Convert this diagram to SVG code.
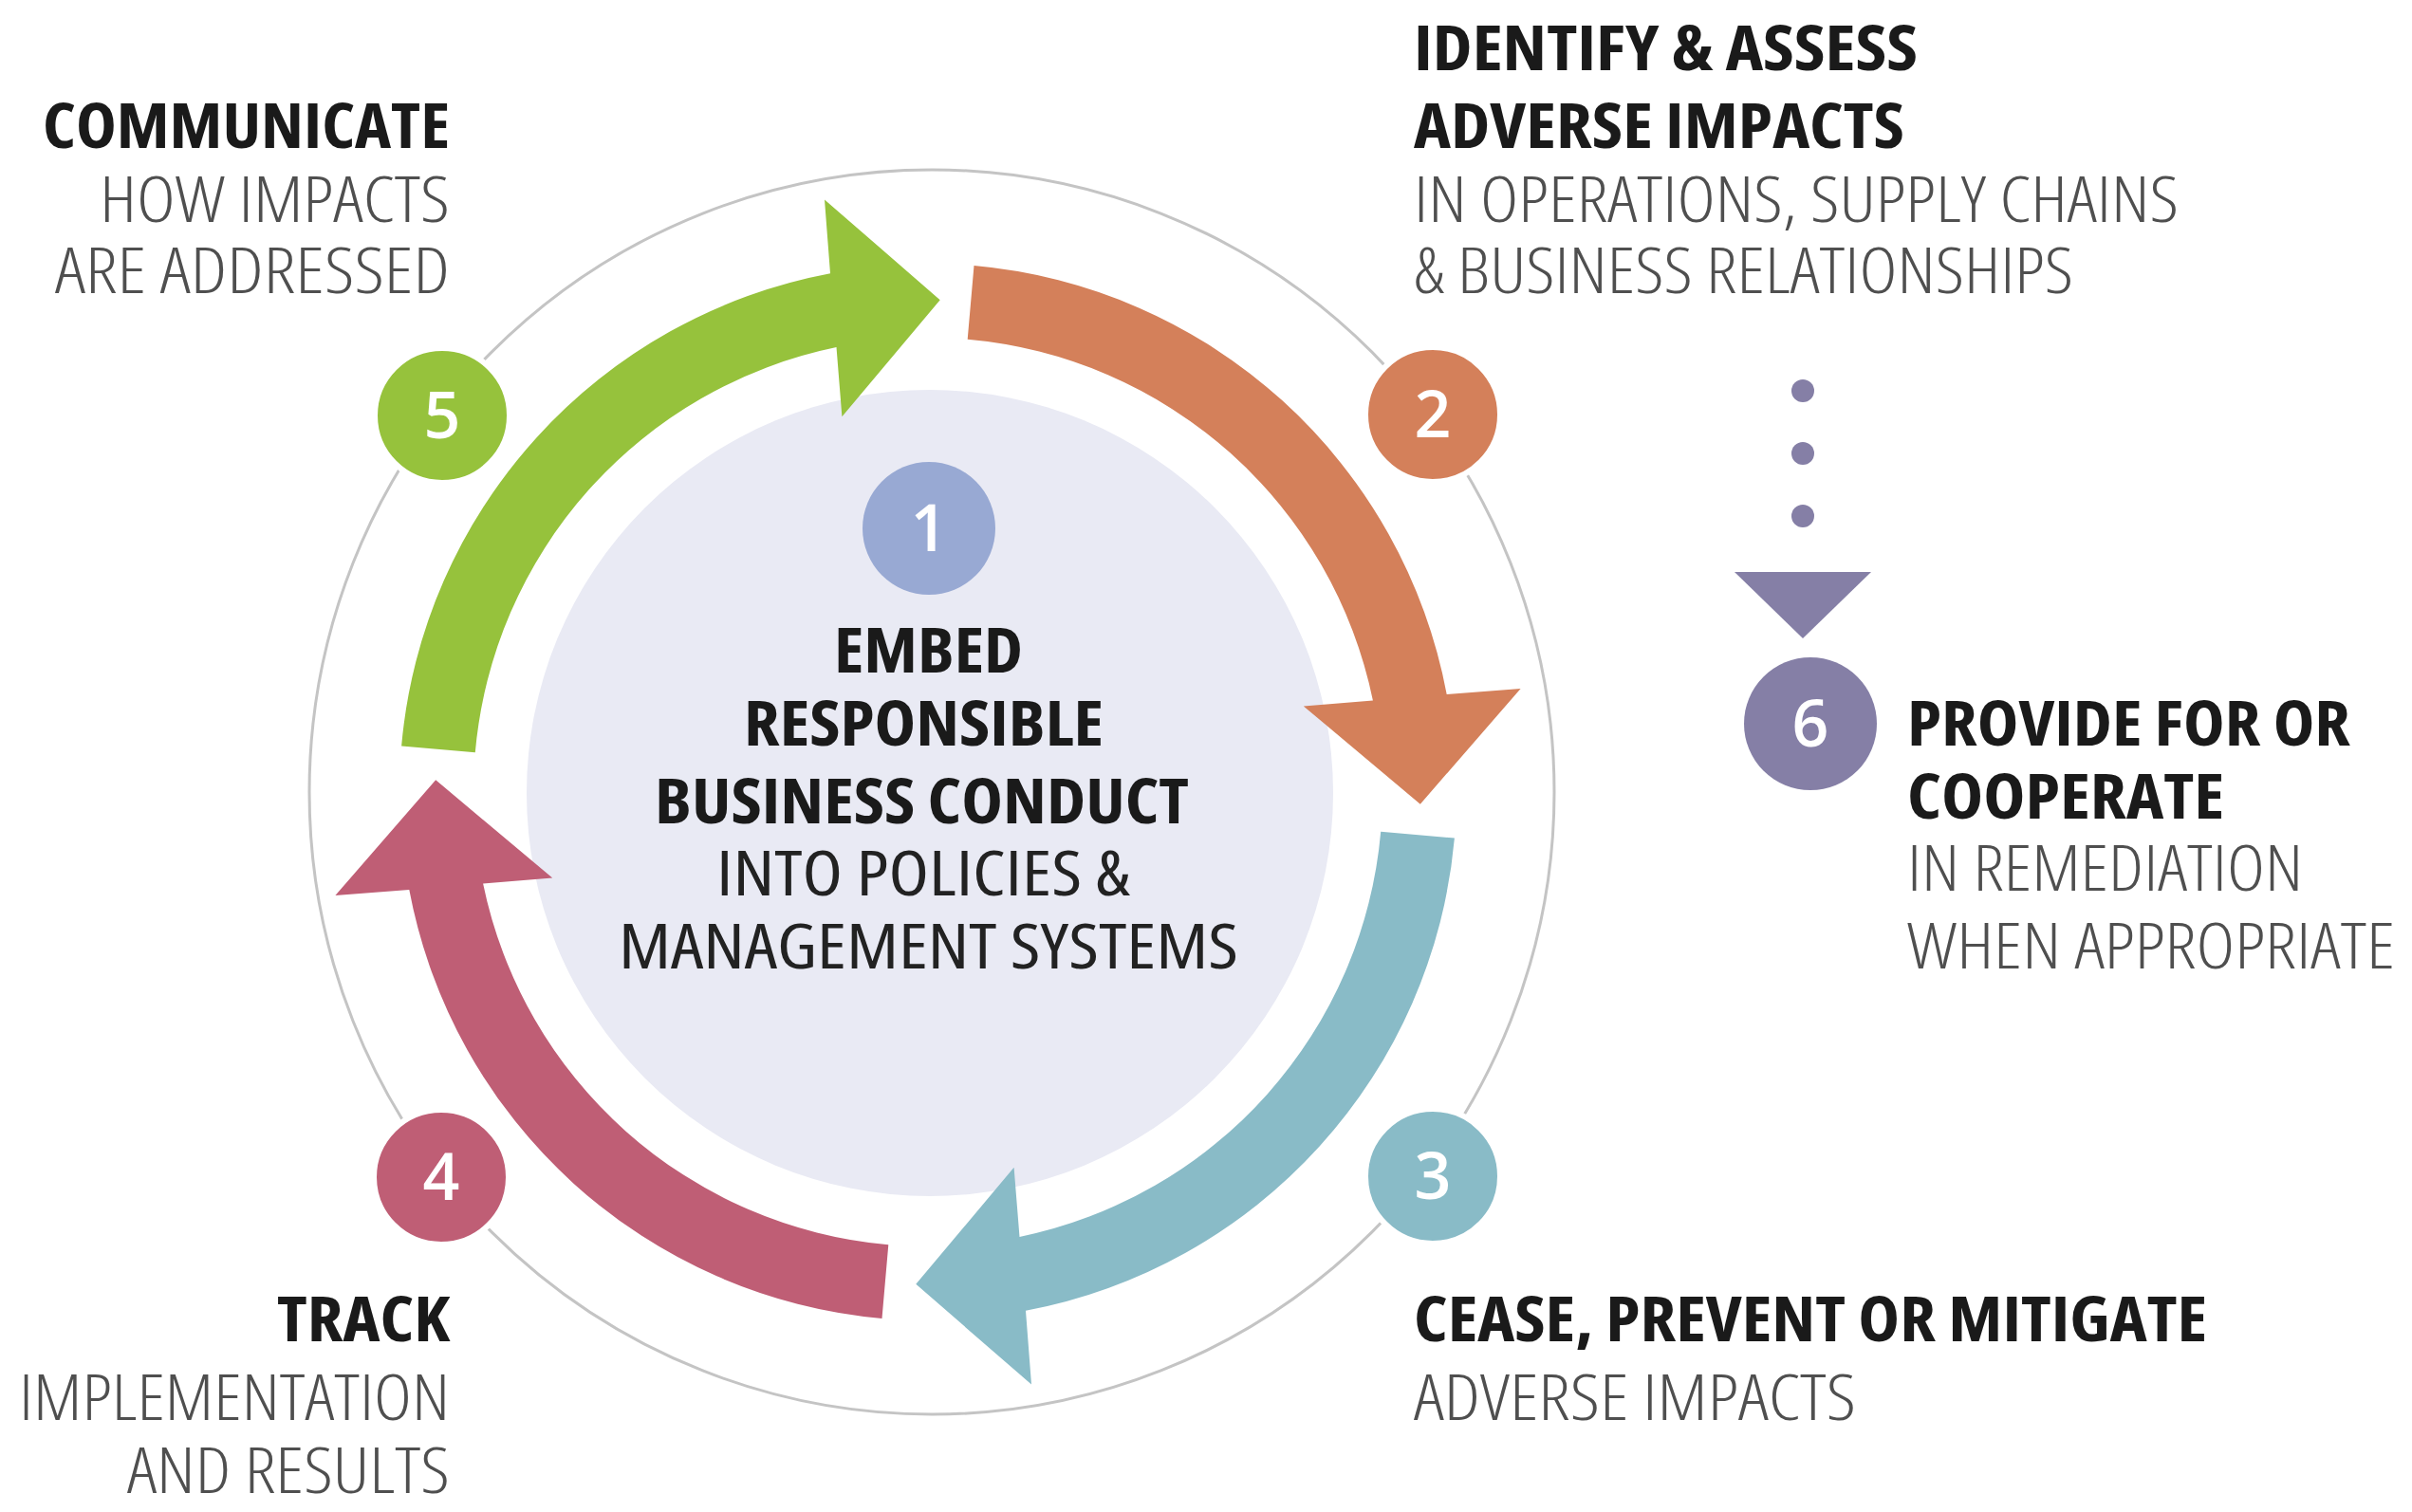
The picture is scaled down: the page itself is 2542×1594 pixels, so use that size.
<svg xmlns="http://www.w3.org/2000/svg" width="2542" height="1594" viewBox="0 0 2542 1594">
<defs>
<style>
.t{font-family:"Open Sans","Liberation Sans",sans-serif;font-size:66px;font-stretch:condensed}
.b{font-weight:700;fill:#1a1a1a}
.g{font-weight:300;fill:#4f4f4f}
.c{font-weight:400;fill:#222222}
.n{font-family:"Open Sans","Liberation Sans",sans-serif;font-size:68px;font-weight:600;fill:#ffffff;text-anchor:middle}
.num{stroke:#ffffff;stroke-width:6}
</style>
<path id="arr" d="M 423.1 786.5 A 557 557 0 0 1 875 288.3 L 869 210.4 L 990.7 316.2 L 887.4 439.2 L 881.5 366.1 A 479 479 0 0 0 500.8 793.3 Z"/>
</defs>
<rect width="2542" height="1594" fill="#ffffff"/>
<circle cx="982" cy="835" r="656" fill="none" stroke="#c4c4c4" stroke-width="3"/>
<g id="node1">
<circle cx="980" cy="836" r="425" fill="#e9eaf4"/>
<circle cx="979" cy="557" r="70" fill="#98a9d3"/>
<text class="n" x="979" y="581">1</text>
<text class="t b" x="879" y="709" textLength="199" lengthAdjust="spacingAndGlyphs">EMBED</text>
<text class="t b" x="784" y="786" textLength="379" lengthAdjust="spacingAndGlyphs">RESPONSIBLE</text>
<text class="t b" x="690" y="868" textLength="563" lengthAdjust="spacingAndGlyphs">BUSINESS CONDUCT</text>
<text class="t c" x="755" y="944" textLength="436" lengthAdjust="spacingAndGlyphs">INTO POLICIES &amp;</text>
<text class="t c" x="652" y="1021" textLength="653" lengthAdjust="spacingAndGlyphs">MANAGEMENT SYSTEMS</text>
</g>
<g id="connectors">
<use href="#arr" fill="#96c23c"/>
<use href="#arr" fill="#d4805a" transform="rotate(90 978 835)"/>
<use href="#arr" fill="#89bbc7" transform="rotate(180 978 835)"/>
<use href="#arr" fill="#bf5e75" transform="rotate(270 978 835)"/>
<circle cx="1900" cy="412" r="12" fill="#857fa6"/>
<circle cx="1900" cy="478" r="12" fill="#857fa6"/>
<circle cx="1900" cy="544" r="12" fill="#857fa6"/>
<polygon points="1828,603 1972,603 1900,673" fill="#857fa6"/>
</g>
<g id="node2">
<circle class="num" cx="1510" cy="437" r="71" fill="#d4805a"/>
<text class="n" x="1510" y="461">2</text>
<text class="t b" x="1490" y="74" textLength="531" lengthAdjust="spacingAndGlyphs">IDENTIFY &amp; ASSESS</text>
<text class="t b" x="1490" y="156" textLength="517" lengthAdjust="spacingAndGlyphs">ADVERSE IMPACTS</text>
<text class="t g" x="1490" y="234" textLength="806" lengthAdjust="spacingAndGlyphs">IN OPERATIONS, SUPPLY CHAINS</text>
<text class="t g" x="1490" y="309" textLength="695" lengthAdjust="spacingAndGlyphs">&amp; BUSINESS RELATIONSHIPS</text>
</g>
<g id="node3">
<circle class="num" cx="1510" cy="1240" r="71" fill="#89bbc7"/>
<text class="n" x="1510" y="1264">3</text>
<text class="t b" x="1490" y="1414" textLength="836" lengthAdjust="spacingAndGlyphs">CEASE, PREVENT OR MITIGATE</text>
<text class="t g" x="1490" y="1497" textLength="466" lengthAdjust="spacingAndGlyphs">ADVERSE IMPACTS</text>
</g>
<g id="node4">
<circle class="num" cx="465" cy="1241" r="71" fill="#bf5e75"/>
<text class="n" x="465" y="1265">4</text>
<text class="t b" x="474" y="1414" text-anchor="end" textLength="182" lengthAdjust="spacingAndGlyphs">TRACK</text>
<text class="t g" x="474" y="1497" text-anchor="end" textLength="454" lengthAdjust="spacingAndGlyphs">IMPLEMENTATION</text>
<text class="t g" x="474" y="1574" text-anchor="end" textLength="340" lengthAdjust="spacingAndGlyphs">AND RESULTS</text>
</g>
<g id="node5">
<circle class="num" cx="466" cy="438" r="71" fill="#96c23c"/>
<text class="n" x="466" y="462">5</text>
<text class="t b" x="474" y="156" text-anchor="end" textLength="429" lengthAdjust="spacingAndGlyphs">COMMUNICATE</text>
<text class="t g" x="474" y="234" text-anchor="end" textLength="369" lengthAdjust="spacingAndGlyphs">HOW IMPACTS</text>
<text class="t g" x="474" y="309" text-anchor="end" textLength="416" lengthAdjust="spacingAndGlyphs">ARE ADDRESSED</text>
</g>
<g id="node6">
<circle cx="1908" cy="763" r="70" fill="#857fa6"/>
<text class="n" x="1908" y="787">6</text>
<text class="t b" x="2010" y="786" textLength="467" lengthAdjust="spacingAndGlyphs">PROVIDE FOR OR</text>
<text class="t b" x="2010" y="863" textLength="334" lengthAdjust="spacingAndGlyphs">COOPERATE</text>
<text class="t g" x="2010" y="939" textLength="417" lengthAdjust="spacingAndGlyphs">IN REMEDIATION</text>
<text class="t g" x="2010" y="1021" textLength="514" lengthAdjust="spacingAndGlyphs">WHEN APPROPRIATE</text>
</g>
</svg>
